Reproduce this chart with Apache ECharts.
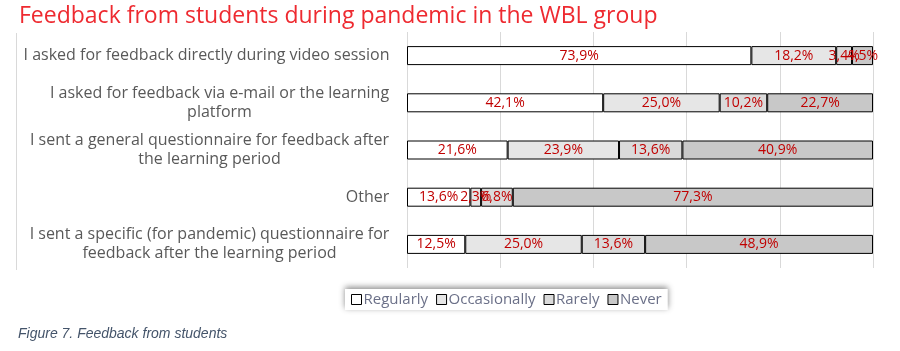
<!DOCTYPE html>
<html>
<head>
<meta charset="utf-8">
<script src="https://cdn.jsdelivr.net/npm/echarts@6/dist/echarts.min.js"></script>
<style>
  html, body { margin: 0; padding: 0; background: #fff; }
  #chart { width: 900px; height: 351px; }
</style>
</head>
<body>
<div id="chart"></div>
<script>
// categories, top to bottom
const questions = [
  'I asked for feedback directly during video session',
  'I asked for feedback via e-mail or the learning\nplatform',
  'I sent a general questionnaire for feedback after\nthe learning period',
  'Other',
  'I sent a specific (for pandemic) questionnaire for\nfeedback after the learning period'
]
const answers = ['Regularly', 'Occasionally', 'Rarely', 'Never']
const regularly = [73.9, 42.1, 21.6, 13.6, 12.5]
const occasionally = [18.2, 25.0, 23.9, 2.3, 25.0]
const rarely = [3.4, 10.2, 13.6, 6.8, 13.6]
const never = [4.5, 22.7, 40.9, 77.3, 48.9]
const xTicks = [0, 20, 40, 60, 80, 100]

const fontName = '"Open Sans"'
const labelFont = '16px ' + fontName
const colors = ['#ffffff', '#e6e6e6', '#dadada', '#c8c8c8']

// multi-line labels: block right-aligned, lines centred within it (like Excel)
const ctx = document.createElement('canvas').getContext('2d')
ctx.font = labelFont
const rich = {}
questions.forEach((q, i) => {
  const w = Math.max(...q.split('\n').map(l => ctx.measureText(l).width))
  rich['q' + i] = {width: Math.ceil(w) + 1, align: 'center', fontSize: 16, fontFamily: fontName, color: '#595959', lineHeight: 19}
})

const chart = echarts.init(document.getElementById('chart'))
const makeSeries = (name, data, i) => ({
  name: name,
  type: 'bar',
  stack: 'all',
  data: data,
  barWidth: 19,
  itemStyle: {color: colors[i], borderColor: '#000', borderWidth: 1},
  label: {
    show: true,
    position: 'inside',
    color: '#c00000',
    fontSize: 14,
    fontFamily: fontName,
    formatter: p => p.value.toFixed(1).replace('.', ',') + '%'
  }
})

chart.setOption({
  animation: false,
  title: {
    text: 'Feedback from students during pandemic in the WBL group',
    left: 14,
    top: 0,
    textStyle: {color: '#ee2a30', fontSize: 23, fontWeight: 'normal', fontFamily: fontName}
  },
  legend: {
    data: answers,
    left: 345,
    top: 289,
    padding: [3, 6, 3, 6],
    itemWidth: 10,
    itemHeight: 10,
    itemGap: 8,
    icon: 'rect',
    backgroundColor: '#fff',
    shadowColor: 'rgba(0,0,0,0.45)',
    shadowBlur: 6,
    shadowOffsetY: -2,
    textStyle: {color: '#6b7088', fontSize: 15, fontFamily: fontName, padding: [0, 0, 0, -3]},
    itemStyle: {borderColor: '#000', borderWidth: 1}
  },
  grid: {left: 407, right: 27, top: 32, bottom: 83},
  xAxis: {
    type: 'value',
    min: xTicks[0],
    max: xTicks[xTicks.length - 1],
    interval: 20,
    axisLabel: {show: false},
    axisLine: {show: false},
    axisTick: {show: false},
    splitLine: {lineStyle: {color: '#d9d9d9'}}
  },
  yAxis: {
    type: 'category',
    data: questions,
    inverse: true,
    axisLine: {show: false},
    axisTick: {show: false},
    axisLabel: {
      margin: 17,
      rich: rich,
      formatter: (v, i) => v.split('\n').map(l => '{q' + i + '|' + l + '}').join('\n')
    }
  },
  graphic: [
    {type: 'line', shape: {x1: 16.5, y1: 33, x2: 16.5, y2: 270}, style: {stroke: '#d9d9d9', lineWidth: 1}},
    {
      type: 'text', left: 18, top: 327,
      style: {text: 'Figure 7. Feedback from students', fill: '#44546a', font: 'italic 14px "Liberation Sans", Arial'}
    }
  ],
  series: [
    makeSeries(answers[0], regularly, 0),
    makeSeries(answers[1], occasionally, 1),
    makeSeries(answers[2], rarely, 2),
    makeSeries(answers[3], never, 3)
  ]
})
</script>
</body>
</html>
